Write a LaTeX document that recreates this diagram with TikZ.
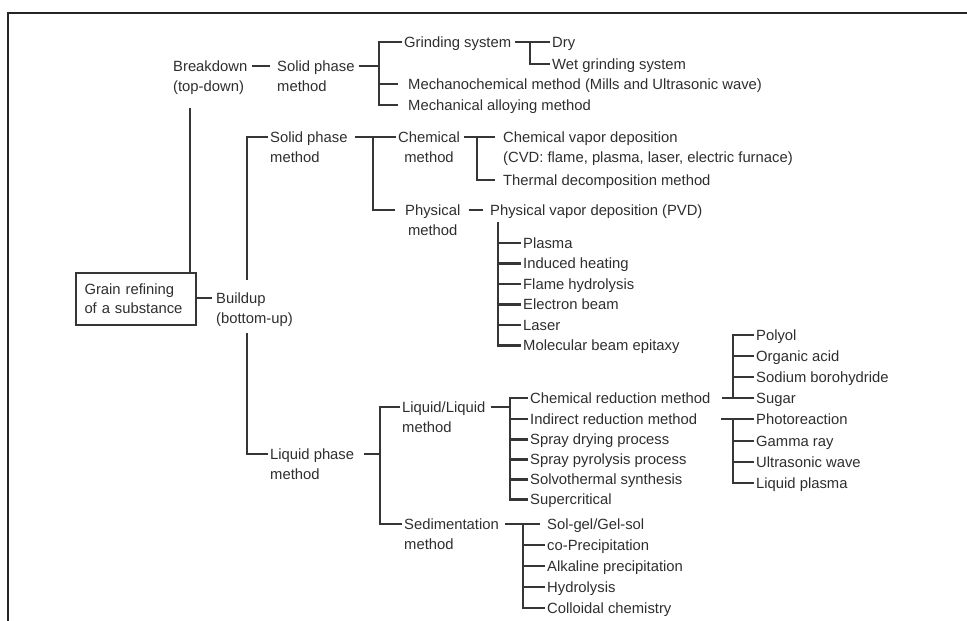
\documentclass[tikz,border=0pt]{standalone}
\usepackage{fontspec}
\setmainfont{Liberation Sans}
\definecolor{tx}{HTML}{2E2E2E}
\definecolor{lnc}{HTML}{363636}
\newcommand\dfont{\fontsize{14.8}{20.4}\selectfont}
\newcommand\twol[2]{\begin{tabular}[t]{@{}l@{}}#1\\#2\end{tabular}}
\newcommand\twoc[2]{\begin{tabular}[t]{@{}c@{}}#1\\#2\end{tabular}}
\begin{document}
\begin{tikzpicture}[x=1pt,y=-1pt,
  lbl/.style={anchor=west, inner sep=0pt, inner xsep=2pt, text height=12pt, text depth=2pt, font=\dfont, text=tx},
  ln/.style={draw=lnc, line width=2.3pt},
]
\useasboundingbox (0,0) rectangle (967,621);
\draw[black!85, line width=2pt] (8,621) -- (8,13) -- (967,13);

% root box
\node[draw=lnc, line width=1.8pt, inner sep=0pt, minimum width=120pt, minimum height=52pt,
      text width=103pt, align=left, font=\fontsize{14.8}{19}\selectfont, text=tx] (gr) at (136,299)
      {Grain refining\\of a substance};

% breakdown branch
\node[lbl] (bd) at (171,66) {\twol{Breakdown}{(top-down)}};
\node[lbl] (spa) at (275,66) {\twol{Solid phase}{method}};
\node[lbl] (gs) at (402,42) {Grinding system};
\node[lbl] (dry) at (550,42) {Dry};
\node[lbl] (wet) at (550,64) {Wet grinding system};
\node[lbl] (mc) at (406,84) {Mechanochemical method (Mills and Ultrasonic wave)};
\node[lbl] (ma) at (406,105) {Mechanical alloying method};

% buildup
\node[lbl] (bu) at (214,298) {\twol{Buildup}{(bottom-up)}};
\node[lbl] (spb) at (268,137) {\twol{Solid phase}{method}};
\node[lbl] (chm) at (396,137) {\twoc{Chemical}{method}};
\node[lbl] (cvd) at (501,137) {\twol{Chemical vapor deposition}{(CVD: flame, plasma, laser, electric furnace)}};
\node[lbl] (thd) at (501,180) {Thermal decomposition method};
\node[lbl] (phy) at (403,210) {\twoc{Physical}{method}};
\node[lbl] (pvd) at (488,210) {Physical vapor deposition (PVD)};
\node[lbl] (p1) at (521,243) {Plasma};
\node[lbl] (p2) at (521,263.5) {Induced heating};
\node[lbl] (p3) at (521,284) {Flame hydrolysis};
\node[lbl] (p4) at (521,304.5) {Electron beam};
\node[lbl] (p5) at (521,325) {Laser};
\node[lbl] (p6) at (521,345.5) {Molecular beam epitaxy};

% liquid phase
\node[lbl] (lp) at (268,454) {\twol{Liquid phase}{method}};
\node[lbl] (ll) at (400,407) {\twol{Liquid/Liquid}{method}};
\node[lbl] (l1) at (528,398) {Chemical reduction method};
\node[lbl] (l2) at (528,419) {Indirect reduction method};
\node[lbl] (l3) at (528,439.5) {Spray drying process};
\node[lbl] (l4) at (528,459.5) {Spray pyrolysis process};
\node[lbl] (l5) at (528,479.5) {Solvothermal synthesis};
\node[lbl] (l6) at (528,499.5) {Supercritical};
\node[lbl] (sd) at (402,524) {\twol{Sedimentation}{method}};
\node[lbl] (s1) at (545,524) {Sol-gel/Gel-sol};
\node[lbl] (s2) at (545,545) {co-Precipitation};
\node[lbl] (s3) at (545,566) {Alkaline precipitation};
\node[lbl] (s4) at (545,587) {Hydrolysis};
\node[lbl] (s5) at (545,608) {Colloidal chemistry};
\node[lbl] (c1) at (754,335) {Polyol};
\node[lbl] (c2) at (754,356) {Organic acid};
\node[lbl] (c3) at (754,377) {Sodium borohydride};
\node[lbl] (c4) at (754,398) {Sugar};
\node[lbl] (i1) at (754,419) {Photoreaction};
\node[lbl] (i2) at (754,441) {Gamma ray};
\node[lbl] (i3) at (754,462) {Ultrasonic wave};
\node[lbl] (i4) at (754,483) {Liquid plasma};

% spine coordinates
\coordinate (sA) at (379,0);
\coordinate (sG) at (530,0);
\coordinate (bdl) at (190,108);
\coordinate (bT) at (247,280);
\coordinate (bB) at (247,333);
\coordinate (sB) at (373,0);
\coordinate (sC) at (477,0);
\coordinate (sP) at (498,222);
\coordinate (sL) at (380,0);
\coordinate (sLL) at (510,0);
\coordinate (sS) at (523,0);
\coordinate (sCh) at (733,0);

% breakdown connectors
\draw[ln, shorten <=3pt, shorten >=5pt] (bd.east) -- (spa.west);
\draw[ln, shorten <=2pt] (spa.east) -- (spa.east -| sA);
\draw[ln, shorten >=8pt] (gs.west) -| (sA |- ma.west) -- (ma.west);
\draw[ln, shorten <=8pt] (mc.west) -- (mc.west -| sA);
\draw[ln, shorten <=2pt] (gs.east) -- (dry.west);
\draw[ln] (sG |- gs.east) |- (wet.west);

% root connectors
\draw[ln, line width=1.8pt] (bdl) -- (bdl |- gr.north);
\draw[ln, shorten >=2pt] (gr.east |- bu.west) -- (bu.west);
\draw[ln] (spb.west) -| (bT);
\draw[ln] (lp.west) -| (bB);

% solid phase (buildup)
\draw[ln, shorten <=5pt] (spb.east) -- (chm.west);
\draw[ln, shorten >=8pt] (sB |- spb.east) |- (phy.west);
\draw[ln, shorten <=2pt, shorten >=6pt] (chm.east) -- (cvd.west);
\draw[ln, shorten >=6pt] (sC |- chm.east) |- (thd.west);
\draw[ln, shorten <=6pt, shorten >=5pt] (phy.east) -- (pvd.west);
\draw[ln] (sP) |- (p6.west);
\foreach \p in {p1,p2,p3,p4,p5} \draw[ln] (\p.west) -- (\p.west -| sP);

% liquid phase
\draw[ln, shorten <=8pt] (lp.east) -- (lp.east -| sL);
\draw[ln] (ll.west) -| (sL |- sd.west) -- (sd.west);
\draw[ln, shorten <=3pt] (ll.east) -- (ll.east -| sLL);
\draw[ln] (l1.west) -| (sLL |- l6.west) -- (l6.west);
\foreach \p in {l2,l3,l4,l5} \draw[ln] (\p.west) -- (\p.west -| sLL);
\draw[ln, shorten <=4pt, shorten >=5pt] (sd.east) -- (s1.west);
\draw[ln] (sS |- s1.west) |- (s5.west);
\foreach \p in {s2,s3,s4} \draw[ln] (\p.west) -- (\p.west -| sS);

% reduction sub-branches
\draw[ln, shorten <=9pt] (l1.east) -- (c4.west);
\draw[ln] (c1.west) -| (sCh |- c4.west);
\foreach \p in {c2,c3} \draw[ln] (\p.west) -- (\p.west -| sCh);
\draw[ln, shorten <=22pt] (l2.east) -- (i1.west);
\draw[ln] (sCh |- i1.west) |- (i4.west);
\foreach \p in {i2,i3} \draw[ln] (\p.west) -- (\p.west -| sCh);
\end{tikzpicture}
\end{document}
